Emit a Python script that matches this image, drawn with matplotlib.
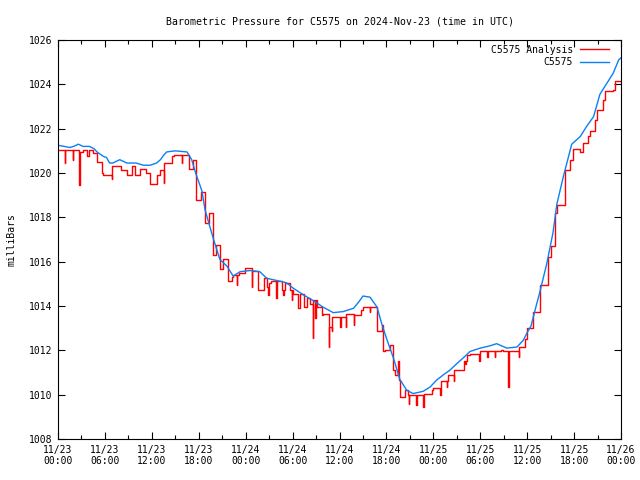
import matplotlib
matplotlib.use('Agg')
import matplotlib.pyplot as plt
from matplotlib.ticker import MultipleLocator

plt.rcParams['font.family'] = ['DejaVu Sans Mono']
plt.rcParams['font.size'] = 7

# hours since 2024-11-23 00:00 UTC
obs_hr = [0, 0.8, 1.5, 2.0, 2.6, 3.2, 4.0, 4.6, 5.0, 5.4, 5.8, 6.2, 6.6, 7.0, 7.9,
          8.8, 10.0, 10.9, 11.8, 12.6, 13.1, 13.5, 13.9, 15.0, 16.5, 17.1, 17.6,
          18.0, 18.4, 18.8, 19.4, 19.9, 20.7, 21.6, 22.4, 23.3, 24.6, 25.8, 26.7,
          28.0, 29.2, 30.1, 31.4, 32.6, 33.9, 35.2, 36.5, 37.8, 38.5, 39.0, 39.9,
          40.8, 41.4, 42.0, 42.9, 43.7, 44.6, 45.4, 46.7, 47.6, 48.4, 49.3, 50.1,
          51.0, 51.8, 52.7, 54.0, 55.2, 56.1, 57.4, 58.7, 59.5, 60.0, 60.5, 61.0,
          61.6, 62.5, 63.3, 63.8, 64.6, 65.7, 66.8, 67.6, 68.5, 69.3, 70.2, 71.0,
          71.7, 72.0]
obs_mb = [1021.25, 1021.2, 1021.15, 1021.2, 1021.3, 1021.2, 1021.2, 1021.1, 1020.95,
          1020.85, 1020.75, 1020.7, 1020.45, 1020.45, 1020.6, 1020.45, 1020.45,
          1020.35, 1020.35, 1020.45, 1020.6, 1020.8, 1020.95, 1021.0, 1020.95,
          1020.6, 1020.0, 1019.6, 1019.2, 1018.35, 1017.6, 1017.0, 1016.1, 1015.8,
          1015.35, 1015.55, 1015.6, 1015.55, 1015.25, 1015.15, 1015.05, 1014.8,
          1014.5, 1014.25, 1013.95, 1013.7, 1013.75, 1013.9, 1014.2, 1014.45,
          1014.4, 1013.95, 1013.2, 1012.55, 1011.65, 1010.7, 1010.2, 1010.05,
          1010.15, 1010.35, 1010.65, 1010.9, 1011.1, 1011.4, 1011.65, 1011.95,
          1012.1, 1012.2, 1012.3, 1012.1, 1012.15, 1012.45, 1012.8, 1013.1, 1013.8,
          1014.6, 1015.9, 1017.3, 1018.6, 1019.8, 1021.3, 1021.65, 1022.1, 1022.55,
          1023.55, 1024.05, 1024.5, 1025.1, 1025.2]

ana_hr = [0, 0.9, 0.95, 1.9, 1.95, 2.7, 2.75, 3.2, 3.7, 4.0, 4.5, 5.0, 5.6, 5.8, 6.9,
          6.95, 8.0, 8.8, 9.4, 9.9, 10.5, 11.2, 11.8, 12.6, 13.1, 13.5, 13.55, 14.6,
          14.8, 15.8, 15.85, 16.7, 17.3, 17.7, 18.3, 18.8, 19.35, 19.8, 20.2, 20.7,
          21.1, 21.8, 22.2, 22.4, 22.9, 22.95, 23.1, 23.9, 24.8, 24.85, 25.6, 26.3,
          26.7, 26.9, 26.95, 27.3, 27.9, 27.95, 28.6, 28.8, 28.85, 29.0, 29.7, 29.9,
          29.95, 30.1, 30.7, 30.9, 31.4, 31.8, 32.2, 32.6, 32.65, 32.9, 32.95, 33.1,
          33.7, 33.9, 34.6, 34.65, 35.0, 35.05, 36.1, 36.15, 36.8, 36.85, 37.8,
          37.85, 38.8, 39.0, 39.9, 39.95, 40.8, 41.4, 41.6, 41.8, 42.4, 42.8, 43.1,
          43.5, 43.55, 43.7, 44.4, 44.8, 44.9, 44.95, 45.8, 45.85, 46.7, 46.75,
          47.8, 48.0, 48.9, 48.95, 49.7, 49.75, 49.9, 50.6, 50.65, 51.9, 52.1,
          52.15, 52.3, 52.7, 53.9, 53.95, 54.9, 54.95, 55.9, 55.95, 56.7, 56.9,
          57.6, 57.65, 58.9, 58.95, 59.7, 60.0, 60.8, 61.6, 62.7, 63.1, 63.6, 63.8,
          64.8, 64.85, 65.5, 65.8, 66.8, 67.1, 67.8, 68.0, 68.7, 68.9, 69.7, 69.9,
          71.0, 71.2, 72.0]
ana_mb = [1021.05, 1020.45, 1021.05, 1020.6, 1021.05, 1019.45, 1020.95, 1021.05,
          1020.75, 1021.05, 1020.9, 1020.5, 1020.0, 1019.9, 1019.75, 1020.3,
          1020.15, 1019.9, 1020.3, 1019.9, 1020.2, 1020.0, 1019.5, 1019.9, 1020.15,
          1019.55, 1020.45, 1020.75, 1020.8, 1020.45, 1020.8, 1020.2, 1020.6,
          1018.8, 1019.15, 1017.75, 1018.2, 1016.3, 1016.75, 1015.65, 1016.1,
          1015.15, 1015.3, 1015.4, 1014.95, 1015.4, 1015.5, 1015.7, 1014.85,
          1015.6, 1014.7, 1015.25, 1014.85, 1014.5, 1015.05, 1015.15, 1014.35,
          1015.15, 1014.7, 1014.5, 1014.7, 1015.05, 1014.7, 1014.25, 1014.7,
          1014.55, 1013.9, 1014.55, 1013.95, 1014.35, 1014.1, 1012.55, 1014.25,
          1013.45, 1014.25, 1013.95, 1013.6, 1013.65, 1012.15, 1013.05, 1012.85,
          1013.5, 1013.05, 1013.5, 1013.05, 1013.65, 1013.15, 1013.6, 1013.8,
          1013.95, 1013.75, 1013.95, 1012.85, 1013.15, 1011.95, 1012.0, 1012.25,
          1011.1, 1010.9, 1011.5, 1010.65, 1009.9, 1010.2, 1010.0, 1009.6, 1010.0,
          1009.55, 1010.0, 1009.45, 1010.05, 1010.2, 1010.3, 1010.0, 1010.6,
          1010.35, 1010.6, 1010.9, 1010.6, 1011.1, 1011.5, 1011.4, 1011.5, 1011.8,
          1011.85, 1011.5, 1011.95, 1011.7, 1011.95, 1011.7, 1011.95, 1012.0,
          1011.95, 1010.35, 1011.95, 1011.7, 1012.15, 1012.5, 1013.0, 1013.75,
          1014.95, 1016.2, 1016.7, 1018.2, 1018.55, 1019.7, 1020.15, 1020.6,
          1021.1, 1020.95, 1021.35, 1021.65, 1021.9, 1022.4, 1022.85, 1023.3,
          1023.7, 1023.75, 1024.15, 1024.15]

tick_hr = [0, 6, 12, 18, 24, 30, 36, 42, 48, 54, 60, 66, 72]
tick_lbl = ['11/23\n00:00', '11/23\n06:00', '11/23\n12:00', '11/23\n18:00',
            '11/24\n00:00', '11/24\n06:00', '11/24\n12:00', '11/24\n18:00',
            '11/25\n00:00', '11/25\n06:00', '11/25\n12:00', '11/25\n18:00',
            '11/26\n00:00']

fig = plt.figure(figsize=(6.4, 4.8), dpi=100)
ax = fig.add_axes([58 / 640, 1 - 439 / 480, (621 - 58) / 640, (439 - 40) / 480])

ax.plot(ana_hr, ana_mb, color='#ff0000', lw=1.0, drawstyle='steps-post',
        label='C5575 Analysis')
ax.plot(obs_hr, obs_mb, color='#0a80f5', lw=1.0, label='C5575')

ax.set_xlim(0, 72)
ax.set_ylim(1008, 1026)
ax.set_xticks(tick_hr)
ax.set_xticklabels(tick_lbl)
ax.xaxis.set_minor_locator(MultipleLocator(3))
ax.yaxis.set_major_locator(MultipleLocator(2))
ax.tick_params(which='both', direction='in', top=True, right=True, labelsize=7,
               width=0.8)
ax.tick_params(which='major', length=5, pad=4)
ax.tick_params(which='minor', length=3)
for s in ax.spines.values():
    s.set_linewidth(0.8)

ax.set_title('Barometric Pressure for C5575 on 2024-Nov-23 (time in UTC)',
             fontsize=7.1, pad=11)
ax.set_ylabel('milliBars', fontsize=7, labelpad=9)

ax.legend(loc='upper right', bbox_to_anchor=(1 - 5 / 563, 1 + 2 / 399),
          frameon=False, markerfirst=False, fontsize=7,
          handlelength=3, handletextpad=0.7, labelspacing=0.25,
          borderaxespad=0.3)

fig.savefig('out.png', dpi=100)
